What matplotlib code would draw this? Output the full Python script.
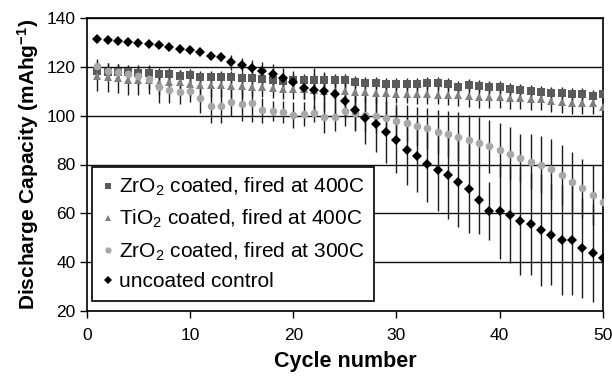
import numpy as np
import matplotlib
matplotlib.use("Agg")
import matplotlib.pyplot as plt
from matplotlib.lines import Line2D

plt.rcParams['font.family'] = ['Liberation Sans', 'DejaVu Sans']
plt.rcParams['mathtext.default'] = 'regular'

cycles = list(range(1, 51))

uncoated = [131.3, 131.0, 130.5, 130.0, 129.6, 129.3, 128.8, 128.1, 127.3, 126.8,
            125.9, 124.5, 123.9, 121.8, 120.8, 119.4, 118.4, 117.0, 115.6, 113.9,
            111.4, 110.6, 110.0, 108.7, 106.0, 102.3, 99.2, 96.6, 93.2, 90.0,
            85.8, 83.4, 80.3, 77.8, 75.6, 73.0, 70.1, 65.3, 61.0, 61.0,
            59.5, 56.7, 55.6, 53.2, 51.3, 49.1, 49.1, 45.8, 43.7, 41.8]
uncoated_err = [0.5] * 12 + [1.5, 3, 3, 3.5, 3.5, 4, 4, 4.5, 4.5,
                9, 8, 8, 7, 8.3, 10.6, 11.4, 12.6, 13.5,
                14, 14.6, 15.7, 16.7, 18, 18.5, 18.3, 13.8, 12, 19.6,
                20, 21.9, 20.8, 22.8, 20.8, 22.6, 22.6, 20.4, 20, 19.2]

zr300 = [120.3, 118.4, 118.1, 117.0, 116.2, 114.9, 111.6, 110.5, 109.8, 110.2,
         107.1, 103.9, 104.1, 105.7, 104.6, 105.0, 102.2, 102.0, 101.6, 100.2,
         100.8, 100.9, 99.6, 99.6, 101.9, 100.9, 100.2, 99.8, 98.9, 97.8,
         96.8, 95.7, 94.8, 93.4, 92.6, 91.4, 90.2, 89.0, 87.4, 85.9,
         84.5, 82.7, 81.2, 80.0, 78.0, 75.7, 72.8, 70.2, 67.5, 64.6]
zr300_err = [3, 3, 3, 3, 3.5, 4, 6.6, 5.5, 5, 4.5,
             6, 7, 7, 6, 6.7, 7.5, 5, 4, 4.5, 5.4,
             5, 3.4, 6.6, 6, 6, 7, 7, 7, 7, 7,
             7.5, 8, 8.5, 9, 9.5, 10, 10, 10.5, 11, 11,
             11, 10, 11.4, 11.7, 12.3, 12.2, 12.4, 12.2, 12.2, 11.4]

zr400 = [118.5, 118.0, 117.8, 117.7, 117.6, 117.3, 117.0, 117.0, 116.2, 116.5,
         116.0, 115.7, 116.0, 115.7, 115.4, 115.4, 115.0, 114.6, 114.3, 114.6,
         114.6, 114.6, 114.6, 114.6, 114.6, 113.9, 113.5, 113.3, 113.0, 113.0,
         113.0, 113.0, 113.3, 113.3, 113.0, 111.6, 112.5, 112.1, 111.6, 111.6,
         110.8, 110.5, 110.2, 109.8, 109.4, 109.1, 108.7, 108.7, 108.0, 108.7]
zr400_err = [2.5] * 50

ti400 = [116.2, 115.7, 115.3, 114.6, 114.6, 114.8, 113.5, 113.7, 113.7, 113.0,
         112.5, 112.5, 112.5, 112.1, 112.1, 111.9, 111.7, 111.4, 111.0, 111.0,
         111.0, 110.5, 110.3, 110.2, 110.0, 109.8, 109.6, 109.4, 109.2, 109.0,
         109.0, 108.8, 108.8, 108.6, 108.5, 108.3, 108.0, 107.7, 107.7, 107.7,
         107.1, 107.1, 107.0, 106.7, 106.1, 105.7, 105.3, 105.0, 105.0, 103.6]
ti400_err = [6] * 6 + [5] * 9 + [4] * 20 + [4.5] * 15

labels = ['ZrO$_2$ coated, fired at 400C', 'TiO$_2$ coated, fired at 400C',
          'ZrO$_2$ coated, fired at 300C', 'uncoated control']
colors = ['#5a5a5a', '#808080', '#a8a8a8', '#000000']
markers = ['s', '^', 'o', 'D']

fig = plt.figure(figsize=(6.12, 3.76), dpi=100)
ax = fig.add_axes([0.142, 0.173, 0.843, 0.779])

series = [(zr400, zr400_err), (ti400, ti400_err), (zr300, zr300_err), (uncoated, uncoated_err)]
msizes = [5.5, 5.5, 5.5, 5]
for (y, e), c, m, ms in zip(series, colors, markers, msizes):
    ax.errorbar(cycles, y, yerr=e, fmt=m, color=c, ecolor='#1a1a1a', elinewidth=1,
                capsize=5, capthick=1.2, markersize=ms, markeredgewidth=0, zorder=3)

ax.set_xlim(0, 50)
ax.set_ylim(20, 140)
ax.set_xticks(range(0, 51, 10))
ax.set_yticks(range(20, 141, 20))
ax.yaxis.grid(True, color='#111111', linewidth=1)
ax.set_axisbelow(True)
ax.tick_params(direction='out', length=5, width=1, labelsize=12.5)
ax.tick_params(axis='x', pad=7)
ax.tick_params(axis='y', pad=3)
for s in ax.spines.values():
    s.set_linewidth(1.2)

ax.set_xlabel('Cycle number', fontsize=15.5, fontweight='bold', labelpad=6)
ax.set_ylabel('Discharge Capacity (mAhg$^{-1}$)', fontsize=15, fontweight='bold', labelpad=4)

handles = [Line2D([], [], linestyle='none', marker=m, color=c, markersize=4.5, markeredgewidth=0)
           for m, c in zip(markers, colors)]
leg = ax.legend(handles, labels, loc='lower left', bbox_to_anchor=(0.0097, 0.035),
                borderaxespad=0, fontsize=15, frameon=True, fancybox=False,
                edgecolor='black', framealpha=1, labelspacing=0.47, handlelength=0.6,
                handletextpad=0.25, borderpad=0.45)
leg.get_frame().set_linewidth(1.2)
leg.set_zorder(5)

fig.savefig('out.png', dpi=100)
